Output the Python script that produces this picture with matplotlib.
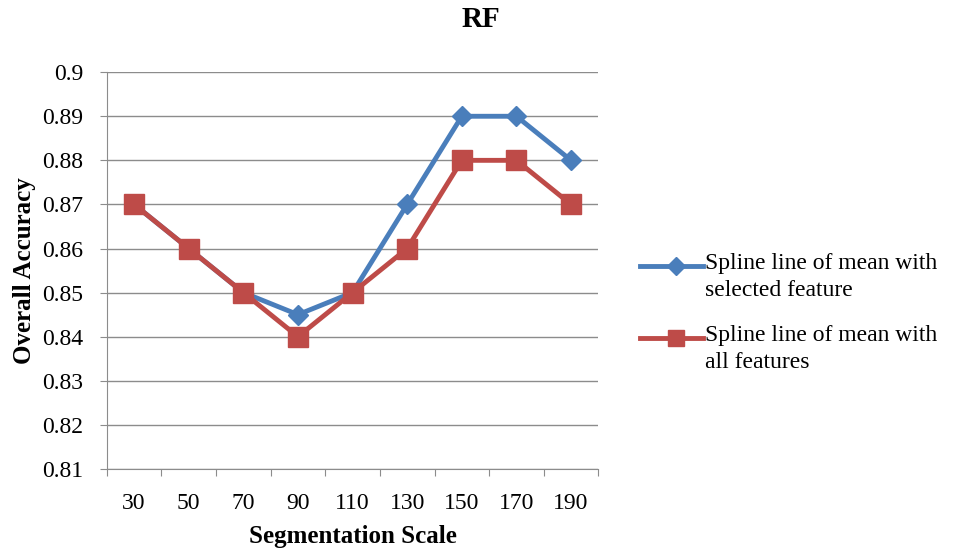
import matplotlib.pyplot as plt
from matplotlib.lines import Line2D
import numpy as np

scales = ['30', '50', '70', '90', '110', '130', '150', '170', '190']
selected = [0.87, 0.86, 0.85, 0.845, 0.85, 0.87, 0.89, 0.89, 0.88]
all_feats = [0.87, 0.86, 0.85, 0.84, 0.85, 0.86, 0.88, 0.88, 0.87]
yticks = [0.81, 0.82, 0.83, 0.84, 0.85, 0.86, 0.87, 0.88, 0.89, 0.9]
names = ['Spline line of mean with\nselected feature',
         'Spline line of mean with\nall features']

plt.rcParams['font.family'] = ['Liberation Serif', 'DejaVu Serif']

fig = plt.figure(figsize=(9.62, 5.51), dpi=100)
ax = fig.add_axes([0.111, 0.149, 0.511, 0.72])

x = np.arange(len(scales))
ax.plot(x, selected, color='#4A7EBB', lw=3.5, marker='D', ms=10, zorder=3)
ax.plot(x, all_feats, color='#BE4B48', lw=3.5, marker='s', ms=15, zorder=4)

ax.set_xlim(-0.5, len(scales) - 0.5)
ax.set_ylim(0.81, 0.9)
ax.set_yticks(yticks)
ax.set_yticklabels([f'{v:g}' for v in yticks], fontsize=17)
ax.yaxis.grid(True, color='#8c8c8c', lw=1)
ax.set_axisbelow(True)

# category labels centred, tick marks on the boundaries
ax.set_xticks(np.arange(len(scales) + 1) - 0.5)
ax.set_xticklabels([])
ax.set_xticks(x, minor=True)
ax.set_xticklabels(scales, minor=True, fontsize=17)
ax.tick_params(axis='x', which='minor', length=0, pad=17)
ax.tick_params(axis='x', which='major', length=5, color='#8c8c8c')
ax.tick_params(axis='y', length=5, color='#8c8c8c', pad=12)

for s in ['top', 'right']:
    ax.spines[s].set_visible(False)
for s in ['left', 'bottom']:
    ax.spines[s].set_color('#8c8c8c')

ax.set_xlabel('Segmentation Scale', fontsize=18, fontweight='bold', labelpad=8)
ax.set_ylabel('Overall Accuracy', fontsize=18, fontweight='bold', labelpad=4)
fig.text(0.5, 0.965, 'RF', fontsize=21, fontweight='bold', ha='center', va='center')

# legend: key line sits level with the first line of each label
keys = [('#4A7EBB', 'D', 9), ('#BE4B48', 's', 12)]
for (c, m, s), name, yk in zip(keys, names, [0.517, 0.386]):
    fig.add_artist(Line2D([0.665, 0.731], [yk, yk], color=c, lw=3.5))
    fig.add_artist(Line2D([0.703], [yk], color=c, marker=m, ms=s, lw=0))
    fig.text(0.733, yk + 0.024, name, fontsize=17, ha='left', va='top',
             linespacing=1.4)

fig.savefig('out.png', dpi=100)
